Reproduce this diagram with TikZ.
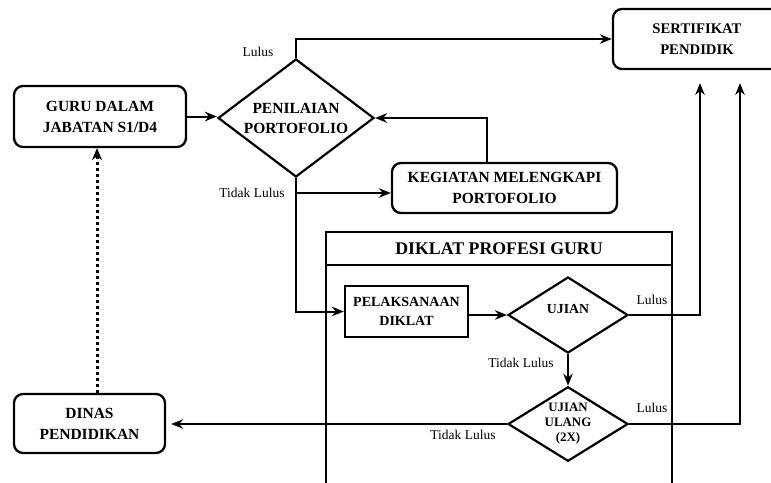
\documentclass[tikz,border=0pt]{standalone}
\usepackage{fontspec}
\setmainfont{Liberation Serif}
\usetikzlibrary{arrows.meta,shapes.geometric}
\begin{document}
\begin{tikzpicture}[x=1pt,y=-1pt,
  rbox/.style={draw,line width=2.3pt,rounded corners=9pt,align=center,inner sep=0pt,font=\bfseries\fontsize{15.5}{21}\selectfont},
  sbox/.style={draw,line width=2.3pt,align=center,inner sep=0pt,font=\bfseries\fontsize{14}{19}\selectfont},
  dia/.style={draw,diamond,line width=2.2pt,align=center,inner sep=0pt,shape aspect=1.4},
  arr/.style={line width=2pt,-{Stealth[length=12pt,width=9.5pt,inset=4pt]}},
  con/.style={line width=2pt},
  lbl/.style={font=\fontsize{13.5}{15}\selectfont},
  dots/.style={line width=3pt,dash pattern=on 3pt off 3pt,-{Stealth[length=12pt,width=10pt,inset=4pt]}}
]
\useasboundingbox (0,0) rectangle (771,482);

% container
\draw[line width=2.3pt] (326,490) -- (326,232) -- (672,232) -- (672,490);
\draw[line width=2.3pt] (326,265) -- (672,265);
\node[font=\bfseries\fontsize{17.8}{20}\selectfont] (title) at (499,249) {DIKLAT PROFESI GURU};

\node[rbox,minimum width=172pt,minimum height=61pt] (guru) at (100,116.5) {GURU DALAM\\JABATAN S1/D4};
\node[dia,minimum width=156pt,minimum height=118pt,font=\bfseries\fontsize{15.5}{20}\selectfont] (pen) at (296,118) {PENILAIAN\\PORTOFOLIO};
\node[rbox,minimum width=168pt,minimum height=60pt,font=\bfseries\fontsize{14.7}{21}\selectfont] (sert) at (697,39) {SERTIFIKAT\\PENDIDIK};
\node[rbox,minimum width=225pt,minimum height=50pt] (keg) at (504.5,188) {KEGIATAN MELENGKAPI\\PORTOFOLIO};
\node[sbox,minimum width=123pt,minimum height=51pt] (pel) at (406.5,311.5) {PELAKSANAAN\\DIKLAT};
\node[dia,minimum width=120pt,minimum height=76pt,font=\bfseries\fontsize{13.8}{16}\selectfont] (ujian) at (568,315) {\raisebox{12pt}{UJIAN}};
\node[dia,minimum width=120pt,minimum height=72pt,font=\bfseries\fontsize{12.9}{15}\selectfont] (ulang) at (568,424) {UJIAN\\ULANG\\(2X)};
\node[rbox,minimum width=151pt,minimum height=59pt] (dinas) at (89.5,423.5) {DINAS\\PENDIDIKAN};

\coordinate (tl) at (296,193);
\coordinate (kx) at (487,163);
\coordinate (s1) at (700,83);
\coordinate (s2) at (740,83);
\coordinate (dx) at (97,0);

\draw[arr] (guru.east) -- (guru.east -| pen.west);
\draw[arr] (pen.north) |- (sert.west);
\draw[arr] (keg.north -| kx) |- (pen.east);
\draw[con] (pen.south) -- (tl);
\draw[arr] (tl) -- (tl -| keg.west);
\draw[arr] (tl) |- (pel.west);
\draw[arr] (pel.east |- ujian.west) -- (ujian.west);
\draw[arr] (ujian.east) -| (s1);
\draw[arr] (ujian.south) -- (ulang.north);
\draw[arr] (ulang.east) -| (s2);
\draw[arr,shorten >=5pt] (ulang.west) -- (ulang.west -| dinas.east);
\draw[dots] (dinas.north -| dx) -- (guru.south -| dx);

\node[lbl] (l1) at (258,52) {Lulus};
\node[lbl] (l2) at (252,193) {Tidak Lulus};
\node[lbl] (l3) at (652,300) {Lulus};
\node[lbl] (l4) at (521,363) {Tidak Lulus};
\node[lbl] (l5) at (652,408) {Lulus};
\node[lbl] (l6) at (463,435) {Tidak Lulus};
\end{tikzpicture}
\end{document}
